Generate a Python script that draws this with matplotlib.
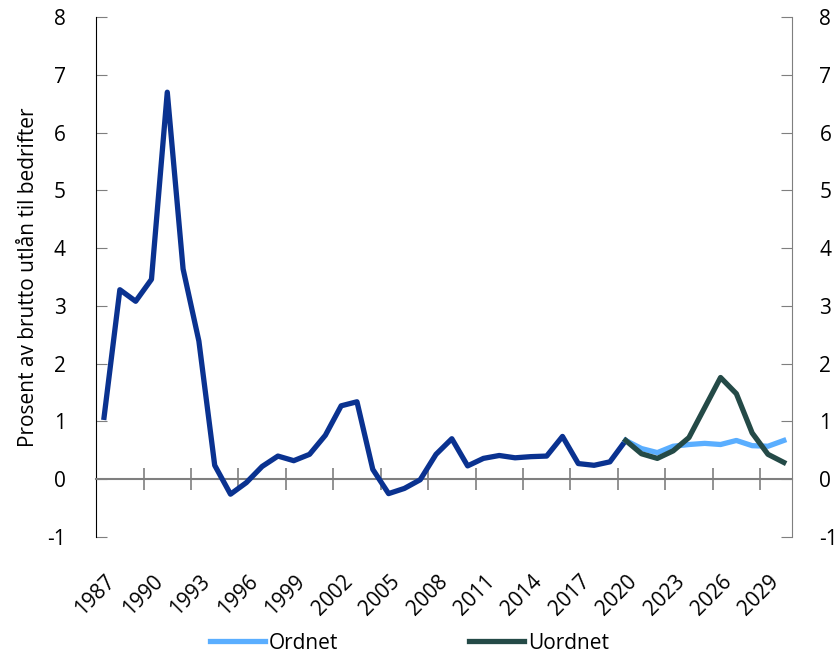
import numpy as np
import matplotlib.pyplot as plt
from matplotlib import transforms

plt.rcParams['font.family'] = ['Open Sans', 'DejaVu Sans']

# årstall 1987-2030, ett punkt per år
years = list(range(1987, 2031))

# historisk tap i prosent av brutto utlån til bedrifter, 1987-2020
historikk = [1.07, 3.28, 3.08, 3.46, 6.70, 3.64, 2.39, 0.24, -0.26, -0.06,
             0.22, 0.40, 0.32, 0.43, 0.76, 1.27, 1.34, 0.17, -0.25, -0.16,
             -0.01, 0.43, 0.70, 0.23, 0.36, 0.41, 0.37, 0.39, 0.40, 0.74,
             0.27, 0.24, 0.30, 0.67]

# framskrivinger 2020-2030
ordnet = [0.67, 0.53, 0.46, 0.57, 0.60, 0.62, 0.60, 0.67, 0.58, 0.57, 0.67]
uordnet = [0.67, 0.44, 0.36, 0.49, 0.72, 1.24, 1.76, 1.48, 0.80, 0.43, 0.29]

yticks = list(range(-1, 9))

blaa = '#0a3290'
lysblaa = '#5aaeff'
groenn = '#244a47'
graa = '#7f7f7f'

fig = plt.figure(figsize=(8.36, 6.58), dpi=100)
ax = fig.add_axes([0.115, 0.184, 0.832, 0.790])

x_hist = np.arange(len(historikk))
x_prog = np.arange(len(historikk) - 1, len(historikk) - 1 + len(ordnet))

ax.plot(x_hist, historikk, color=blaa, lw=3.8, zorder=3)
ax.plot(x_prog, ordnet, color=lysblaa, lw=3.8, label='Ordnet', zorder=4)
ax.plot(x_prog, uordnet, color=groenn, lw=3.8, label='Uordnet', zorder=5)

ax.set_xlim(-0.5, len(years) - 0.5)
ax.set_ylim(-1, 8)
ax.set_yticks(yticks)
ax.set_yticklabels([str(v) for v in yticks], fontsize=15)
ax.tick_params(axis='y', direction='in', length=8, color=graa, pad=22)

# x-aksen ligger på null, tikk mellom hvert tredje år
ax.spines['bottom'].set_position(('data', 0))
ax.spines['bottom'].set_color(graa)
ax.spines['bottom'].set_linewidth(1.5)
ax.set_xticks(np.arange(2.5, len(years), 3))
ax.set_xticklabels([])
ax.tick_params(axis='x', direction='inout', length=16, color=graa, width=1.2)

ax.spines['top'].set_visible(False)
ax.spines['right'].set_visible(False)
ax.spines['left'].set_color('black')

trans = transforms.blended_transform_factory(ax.transData, ax.transAxes)
for i in range(0, len(years), 3):
    ax.text(i + 0.05, -0.065, str(years[i]), transform=trans, rotation=45,
            ha='right', va='top', rotation_mode='anchor', fontsize=15)

ax.set_ylabel('Prosent av brutto utlån til bedrifter', fontsize=15, labelpad=6)

ax2 = ax.twinx()
ax2.set_ylim(-1, 8)
ax2.set_yticks(yticks)
ax2.set_yticklabels([str(v) for v in yticks], fontsize=15)
ax2.tick_params(axis='y', direction='in', length=8, color=graa, pad=20)
ax2.spines['top'].set_visible(False)
ax2.spines['left'].set_visible(False)
ax2.spines['bottom'].set_visible(False)
ax2.spines['right'].set_color(graa)

fig.legend(loc='lower center', bbox_to_anchor=(0.49, -0.022), ncol=2, frameon=False,
           fontsize=15, handlelength=2.6, handletextpad=0.2, columnspacing=6.3)

fig.savefig('out.png', dpi=100)
